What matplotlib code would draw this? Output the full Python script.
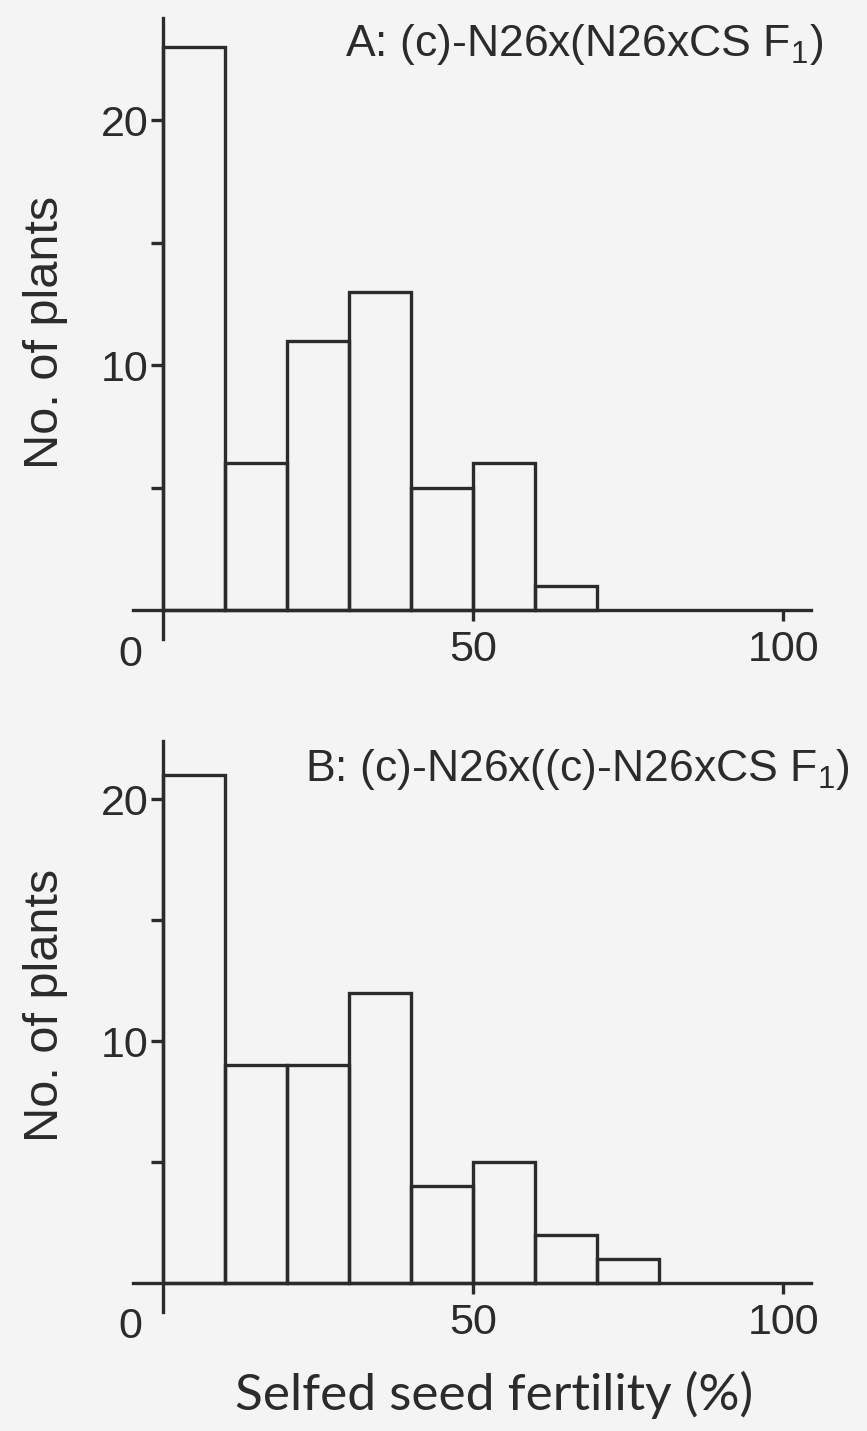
import matplotlib
matplotlib.use('Agg')
import matplotlib.pyplot as plt
from matplotlib.ticker import FixedLocator

plt.rcParams['mathtext.default'] = 'regular'

# fertility classes (%), lower edge of each 10% bin
bin_edges = [0, 10, 20, 30, 40, 50, 60, 70, 80, 90]
counts_a = [23, 6, 11, 13, 5, 6, 1, 0, 0, 0]
counts_b = [21, 9, 9, 12, 4, 5, 2, 1, 0, 0]
titles = ['A: (c)-N26x(N26xCS F$_1$)', 'B: (c)-N26x((c)-N26xCS F$_1$)']
xticks = [50, 100]
yticks_major = [10, 20]
yticks_minor = [5, 15]

BG = '#f4f4f4'
INK = '#2b2b2b'
SANS = ['Liberation Sans', 'DejaVu Sans']
LW = 2.4

fig = plt.figure(figsize=(8.67, 14.31), dpi=100, facecolor=BG)

ax_a = fig.add_axes([0.152, 0.5514, 0.787, 0.438])
ax_b = fig.add_axes([0.152, 0.0814, 0.787, 0.4025])


def draw_panel(ax, counts, ytop):
    ax.set_facecolor('none')
    nz = [(e, c) for e, c in zip(bin_edges, counts) if c > 0]
    ax.bar([e for e, _ in nz], [c for _, c in nz], width=10, align='edge',
           facecolor='none', edgecolor=INK, linewidth=LW, zorder=3)
    ax.set_xlim(-5, 105)
    ax.set_ylim(-1.3, ytop + 0.1)
    for s in ['top', 'right']:
        ax.spines[s].set_visible(False)
    ax.spines['left'].set_position(('data', 0))
    ax.spines['bottom'].set_position(('data', 0))
    ax.spines['left'].set_bounds(-1.2, ytop)
    ax.spines['bottom'].set_bounds(-4.8, 104.5)
    for s in ['left', 'bottom']:
        ax.spines[s].set_linewidth(LW)
        ax.spines[s].set_color(INK)
        ax.spines[s].set_zorder(4)

    ax.set_xticks(xticks)
    ax.set_xticklabels([str(t) for t in xticks])
    ax.yaxis.set_major_locator(FixedLocator(yticks_major))
    ax.yaxis.set_minor_locator(FixedLocator(yticks_minor))
    ax.set_yticklabels([str(t) for t in yticks_major])
    ax.tick_params(axis='x', direction='out', length=8, width=LW, color=INK,
                   pad=6, labelsize=31, labelcolor=INK)
    ax.tick_params(axis='y', which='both', direction='out', length=9,
                   width=LW, color=INK, pad=1, labelsize=31, labelcolor=INK)
    for lab in ax.get_xticklabels() + ax.get_yticklabels():
        lab.set_family(SANS)

    # origin label sits below-left of the axes crossing
    ax.text(-5.3, -1.0, '0', ha='center', va='top', fontsize=31,
            color=INK, family=SANS)


draw_panel(ax_a, counts_a, 24.2)
draw_panel(ax_b, counts_b, 22.4)

fig.text(0.398, 0.9686, titles[0], ha='left', va='center', fontsize=32,
         color=INK, family=SANS)
fig.text(0.352, 0.462, titles[1], ha='left', va='center', fontsize=32,
         color=INK, family=SANS)

for y in [0.768, 0.2977]:
    fig.text(0.052, y, 'No. of plants', rotation=90, ha='center', va='center',
             fontsize=35, color=INK, family=SANS)

fig.text(0.57, 0.025, 'Selfed seed fertility (%)', ha='center', va='center',
         fontsize=37, color=INK, family=['Lato', 'DejaVu Sans'])

fig.savefig('out.png', dpi=100, facecolor=BG)
